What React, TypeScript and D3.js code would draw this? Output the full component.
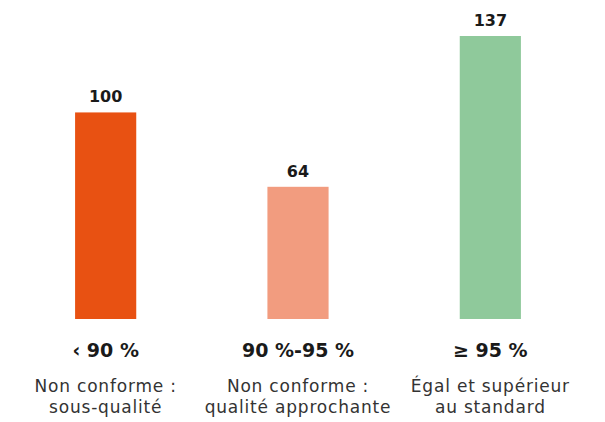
import React from "react";
import * as d3 from "d3";

const categories = ["‹ 90 %", "90 %-95 %", "≥ 95 %"];
const descriptions = [
  ["Non conforme :", "sous-qualité"],
  ["Non conforme :", "qualité approchante"],
  ["Égal et supérieur", "au standard"],
];
const values = [100, 64, 137];
const colors = ["#E85112", "#F29C7F", "#8FC99B"];

const W = 605;
const H = 422;
const FONT = "'DejaVu Sans', sans-serif";

export default function App() {
  const x = d3
    .scaleBand<string>()
    .domain(categories)
    .range([9.5, 586.5])
    .paddingInner(0.682)
    .paddingOuter(0.341);
  const y = d3.scaleLinear().domain([0, 137]).range([319, 36]);

  return (
    <svg
      width={W}
      height={H}
      style={{ position: "absolute", left: 0, top: 0, background: "#fff" }}
      fontFamily={FONT}
    >
      {categories.map((c, i) => {
        const bx = x(c) as number;
        const bw = x.bandwidth();
        const cx = bx + bw / 2;
        return (
          <g key={c}>
            <rect x={bx} y={y(values[i])} width={bw} height={y(0) - y(values[i])} fill={colors[i]} />
            <text x={cx} y={y(values[i]) - 10} textAnchor="middle" fontSize={16} fontWeight={700} fill="#1a1a1a">
              {values[i]}
            </text>
            <text x={cx} y={357} textAnchor="middle" fontSize={19} fontWeight={700} fill="#1a1a1a">
              {c}
            </text>
            {descriptions[i].map((line, j) => (
              <text key={j} x={cx} y={392 + j * 21} textAnchor="middle" fontSize={17} fontWeight={400} letterSpacing={0.8} fill="#333">
                {line}
              </text>
            ))}
          </g>
        );
      })}
    </svg>
  );
}
